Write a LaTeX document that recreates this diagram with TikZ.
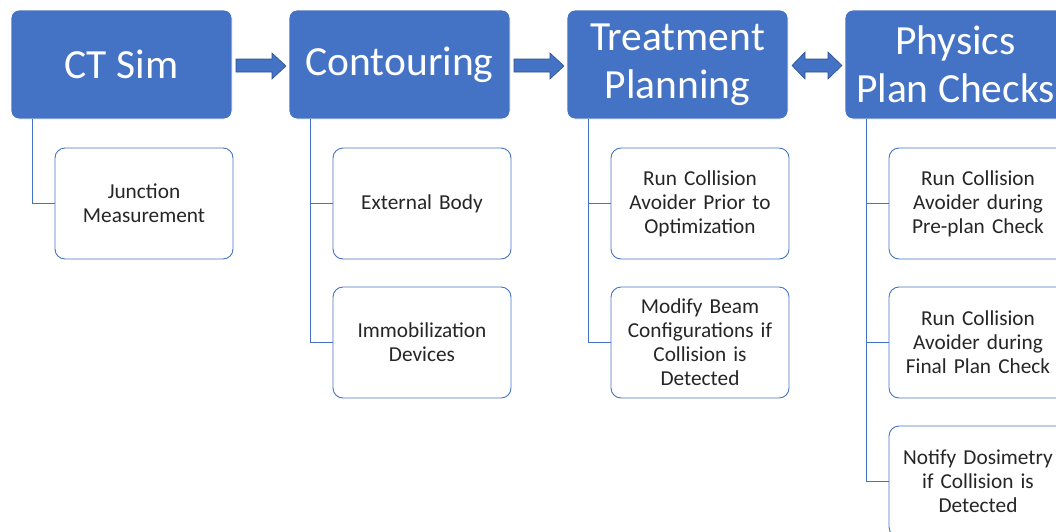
\documentclass[tikz,border=0pt]{standalone}
\usepackage{fontspec}
\setmainfont{Carlito}
\definecolor{obl}{HTML}{4472C4}
\definecolor{obd}{HTML}{2F528F}
\definecolor{txt}{HTML}{262626}
\begin{document}
\begin{tikzpicture}[x=1pt,y=-1pt,
  head/.style={rectangle, rounded corners=8pt, fill=obl, draw=white, line width=0.8pt,
    minimum width=221pt, minimum height=109pt, text=white, align=center,
    inner sep=0pt, font=\fontsize{41.5}{48}\selectfont},
  child/.style={rectangle, rounded corners=10pt, fill=white, draw=obl, line width=0.9pt,
    minimum width=178pt, minimum height=111pt, text=txt, align=center,
    inner sep=0pt, text width=170pt, font=\fontsize{21.3}{24}\selectfont},
  link/.style={draw=obl, line width=1.2pt},
  blk/.style={fill=obl, draw=obd, line width=0.6pt}]
\clip (0,0) rectangle (1056,531);
\fill[white] (0,0) rectangle (1056,531);
% headers
\node[head] (ct)  at (121.5,64.5) {CT Sim};
\node[head] (con) at (399.5,64.5) {Contouring};
\node[head] (tp)  at (677.5,64.5) {Treatment\\Planning};
\node[head] (pc)  at (955.5,64.5) {Physics\\Plan Checks};
% children
\node[child] (c1)  at (144,203.5) {Junction\\Measurement};
\node[child] (c2)  at (422,203.5) {External Body};
\node[child] (c3)  at (422,342.5) {Immobilization\\Devices};
\node[child] (c4)  at (700,203.5) {Run Collision\\Avoider Prior to\\Optimization};
\node[child] (c5)  at (700,342.5) {Modify Beam\\Configurations if\\Collision is\\Detected};
\node[child] (c6)  at (978,203.5) {Run Collision\\Avoider during\\Pre-plan Check};
\node[child] (c7)  at (978,342.5) {Run Collision\\Avoider during\\Final Plan Check};
\node[child] (c8)  at (978,481.5) {Notify Dosimetry\\if Collision is\\Detected};
% connectors
\draw[link] ([xshift=22pt]ct.south west) |- (c1.west);
\draw[link] ([xshift=22pt]con.south west) |- (c2.west);
\draw[link] ([xshift=22pt]con.south west) |- (c3.west);
\draw[link] ([xshift=22pt]tp.south west) |- (c4.west);
\draw[link] ([xshift=22pt]tp.south west) |- (c5.west);
\draw[link] ([xshift=22pt]pc.south west) |- (c6.west);
\draw[link] ([xshift=22pt]pc.south west) |- (c7.west);
\draw[link] ([xshift=22pt]pc.south west) |- (c8.west);
% block arrows
\draw[blk] (236,59) -- (272,59) -- (272,53) -- (286,66) -- (272,79) -- (272,72) -- (236,72) -- cycle;
\draw[blk] (514,59) -- (550,59) -- (550,53) -- (564,66) -- (550,79) -- (550,72) -- (514,72) -- cycle;
\draw[blk] (792,65.5) -- (805,52) -- (805,59) -- (828,59) -- (828,52) -- (842,65.5) -- (828,79) -- (828,72) -- (805,72) -- (805,79) -- cycle;
\end{tikzpicture}
\end{document}
